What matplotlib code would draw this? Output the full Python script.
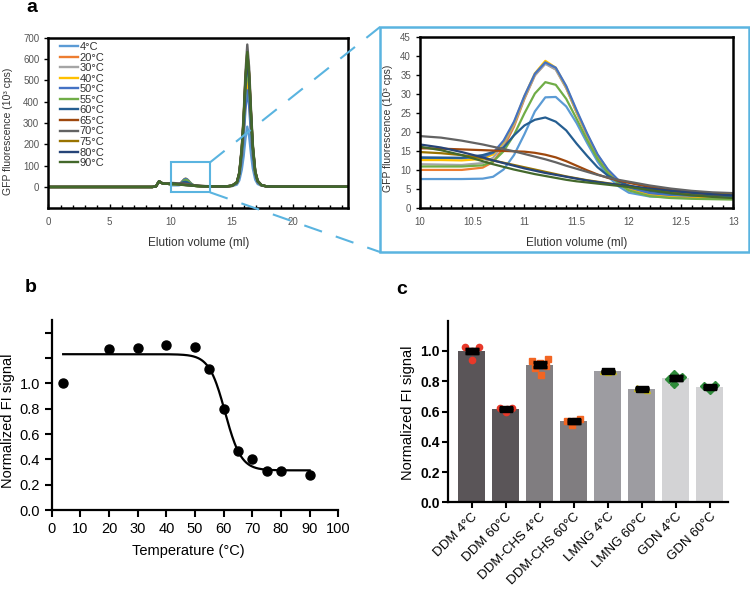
import numpy as np
import matplotlib
matplotlib.use('Agg')
import matplotlib.pyplot as plt
from matplotlib.patches import Rectangle
from matplotlib.lines import Line2D

plt.rcParams['font.family'] = ['Liberation Sans', 'DejaVu Sans']

# ---------------- panel a data (10^3 cps) ----------------
temps = ['4°C', '20°C', '30°C', '40°C', '50°C', '55°C', '60°C', '65°C', '70°C', '75°C', '80°C', '90°C']
line_colors = ['#5B9BD5', '#ED7D31', '#A5A5A5', '#FFC000', '#4472C4', '#70AD47',
               '#255E91', '#9E480E', '#636363', '#997300', '#264478', '#43682B']

x_pre = [0, 8.5, 8.8, 8.95, 9.05, 9.2, 9.4, 9.6, 9.8]
y_pre = [0, 0, 3, 18, 27, 20, 16, 15, 15]

x_zoom = [10.0, 10.2, 10.4, 10.6, 10.7, 10.8, 10.9, 11.0, 11.1, 11.2, 11.3, 11.4,
          11.5, 11.6, 11.7, 11.8, 11.9, 12.0, 12.2, 12.4, 12.6, 12.8, 13.0]
zoom_4c = [7.7, 7.7, 7.7, 7.8, 8.3, 10.2, 14.0, 19.5, 25.5, 29.2, 29.3, 26.8, 22.4, 17.2, 12.3, 8.4, 5.8, 4.1, 3.1, 2.9, 2.8, 2.8, 2.7]
zoom_20c = [10.1, 10.1, 10.1, 10.7, 12.2, 16.0, 21.5, 28.8, 35.0, 38.2, 36.6, 31.7, 25.2, 19.2, 13.8, 9.8, 7.0, 5.2, 3.7, 3.2, 3.0, 2.9, 2.8]
zoom_30c = [11.6, 11.5, 11.4, 11.9, 13.3, 16.9, 22.0, 29.0, 35.0, 38.0, 36.5, 31.6, 25.2, 19.3, 14.0, 10.0, 7.3, 5.5, 4.2, 3.8, 3.6, 3.5, 3.4]
zoom_40c = [12.7, 12.7, 12.6, 13.0, 14.2, 17.5, 22.5, 29.5, 35.5, 38.8, 37.0, 32.0, 25.5, 19.5, 14.0, 10.0, 7.2, 5.3, 3.8, 3.3, 3.1, 3.0, 2.9]
zoom_50c = [13.4, 13.3, 13.2, 13.5, 14.6, 17.8, 22.8, 29.6, 35.4, 38.4, 37.0, 32.2, 25.8, 19.7, 14.2, 10.2, 7.4, 5.5, 4.0, 3.5, 3.3, 3.2, 3.1]
zoom_55c = [11.0, 11.0, 11.0, 11.3, 12.3, 15.0, 19.3, 25.0, 30.2, 33.2, 32.5, 28.8, 23.5, 18.0, 13.0, 9.2, 6.5, 4.7, 3.2, 2.7, 2.5, 2.4, 2.3]
zoom_60c = [13.3, 13.3, 13.3, 14.0, 14.8, 16.0, 19.2, 21.8, 23.3, 23.9, 22.8, 20.5, 17.0, 13.8, 10.8, 8.6, 7.1, 6.0, 4.6, 3.9, 3.6, 3.4, 3.3]
zoom_65c = [15.8, 15.7, 15.5, 15.3, 15.2, 15.1, 15.0, 14.9, 14.6, 14.1, 13.4, 12.4, 11.2, 10.0, 8.9, 8.0, 7.3, 6.7, 5.6, 4.8, 4.2, 3.8, 3.5]
zoom_70c = [19.0, 18.6, 17.8, 16.8, 16.2, 15.6, 15.0, 14.3, 13.6, 12.9, 12.1, 11.2, 10.4, 9.6, 8.8, 8.1, 7.5, 7.0, 6.0, 5.2, 4.6, 4.2, 4.0]
zoom_75c = [14.8, 14.5, 14.0, 13.2, 12.6, 12.0, 11.4, 10.8, 10.2, 9.6, 9.0, 8.4, 7.9, 7.4, 7.0, 6.6, 6.2, 5.8, 5.0, 4.4, 4.0, 3.7, 3.5]
zoom_80c = [16.8, 16.0, 14.8, 13.4, 12.6, 11.9, 11.2, 10.5, 9.9, 9.3, 8.8, 8.3, 7.8, 7.3, 6.9, 6.5, 6.2, 5.9, 5.2, 4.6, 4.1, 3.7, 3.4]
zoom_90c = [16.2, 15.3, 14.0, 12.4, 11.6, 10.9, 10.2, 9.6, 9.0, 8.5, 8.0, 7.5, 7.1, 6.8, 6.5, 6.2, 5.9, 5.6, 4.8, 4.0, 3.4, 3.0, 2.7]
zoom_curves = [zoom_4c, zoom_20c, zoom_30c, zoom_40c, zoom_50c, zoom_55c,
               zoom_60c, zoom_65c, zoom_70c, zoom_75c, zoom_80c, zoom_90c]

x_mid = [13.5, 14.5]
y_mid = [3, 2.5]

x_peak = [15.0, 15.4, 15.6, 15.8, 15.95, 16.1, 16.25, 16.4, 16.55, 16.7, 16.9, 17.1, 17.4, 17.8]
peak_4c = [4, 11, 31, 81, 143, 227, 283, 238, 157, 87, 34, 14, 6, 3]
peak_20c = [5, 19, 55, 149, 263, 419, 523, 440, 289, 159, 60, 24, 8, 3]
peak_30c = [6, 20, 59, 160, 283, 451, 563, 473, 311, 171, 65, 25, 9, 3]
peak_40c = [5, 18, 53, 143, 253, 403, 503, 423, 278, 153, 58, 23, 8, 3]
peak_50c = [5, 17, 48, 129, 228, 363, 453, 381, 251, 138, 53, 21, 8, 3]
peak_55c = [6, 20, 59, 160, 283, 451, 563, 473, 311, 171, 65, 25, 9, 3]
peak_60c = [6, 21, 63, 171, 303, 483, 603, 507, 333, 183, 69, 27, 9, 3]
peak_65c = [6, 22, 66, 179, 318, 507, 633, 532, 350, 192, 72, 28, 9, 3]
peak_70c = [6, 23, 70, 189, 336, 535, 668, 562, 369, 203, 76, 30, 10, 3]
peak_75c = [6, 22, 65, 177, 313, 499, 623, 524, 344, 189, 71, 28, 9, 3]
peak_80c = [6, 21, 64, 174, 308, 491, 613, 515, 339, 186, 70, 27, 9, 3]
peak_90c = [6, 22, 66, 179, 318, 507, 633, 532, 350, 192, 72, 28, 9, 3]
peak_curves = [peak_4c, peak_20c, peak_30c, peak_40c, peak_50c, peak_55c,
               peak_60c, peak_65c, peak_70c, peak_75c, peak_80c, peak_90c]

x_post = [18.5, 24.5]
y_post = [1.5, 1.0]

# ---------------- panel b data ----------------
temp_b = [4, 20, 30, 40, 50, 55, 60, 65, 70, 75, 80, 90]
signal_b = [1.0, 1.268, 1.28, 1.30, 1.287, 1.116, 0.797, 0.466, 0.405, 0.308, 0.308, 0.274]
fit_top, fit_bottom, fit_tm, fit_slope = 1.23, 0.313, 60.5, 2.8

# ---------------- panel c data ----------------
conditions = ['DDM 4°C', 'DDM 60°C', 'DDM-CHS 4°C', 'DDM-CHS 60°C',
              'LMNG 4°C', 'LMNG 60°C', 'GDN 4°C', 'GDN 60°C']
bar_means = [1.0, 0.615, 0.91, 0.535, 0.865, 0.75, 0.82, 0.76]
bar_sem = [0.015, 0.006, 0.015, 0.01, 0.003, 0.003, 0.012, 0.006]
pts_ddm4 = [1.025, 1.025, 0.94, 1.0]
pts_ddm60 = [0.62, 0.62, 0.60, 0.615]
pts_chs4 = [0.935, 0.945, 0.84, 0.89, 0.90, 0.92]
pts_chs60 = [0.535, 0.548, 0.51, 0.54]
pts_lmng4 = [0.87, 0.865, 0.86]
pts_lmng60 = [0.755, 0.745, 0.75]
pts_gdn4 = [0.815, 0.83, 0.785, 0.848]
pts_gdn60 = [0.77, 0.775, 0.74]
pts_all = [pts_ddm4, pts_ddm60, pts_chs4, pts_chs60, pts_lmng4, pts_lmng60, pts_gdn4, pts_gdn60]
pt_offsets = [[-0.2, 0.2, 0.0, 0.0], [-0.18, 0.18, 0.0, 0.05],
              [-0.24, 0.24, 0.05, -0.15, 0.18, 0.0], [-0.2, 0.2, -0.05, 0.05],
              [-0.15, 0.15, 0.0], [-0.15, 0.15, 0.0],
              [-0.2, 0.2, -0.05, -0.05], [-0.17, 0.17, 0.0]]
bar_colors = ['#5a5558', '#5a5558', '#807d80', '#807d80', '#9d9ca1', '#9d9ca1', '#d3d3d5', '#d3d3d5']
pt_colors = ['#e8392a', '#e8392a', '#f26522', '#f26522', '#c8bd1e', '#c8bd1e', '#2e8b3a', '#2e8b3a']
pt_markers = ['o', 'o', 's', 's', '^', '^', 'D', 'D']

W, H = 750, 591
blue = '#5ab4e0'
gray_txt = '#555555'
fig = plt.figure(figsize=(7.5, 5.91), dpi=100)

def fx(px):
    return px / W

def fy(py):
    return 1 - py / H

# ---------- panel a: full chromatogram ----------
ax_a = fig.add_axes([fx(48.3), fy(208.3), fx(300), 170.6 / H])
for i, t in enumerate(temps):
    xs = x_pre + x_zoom + x_mid + x_peak + x_post
    ys = y_pre + zoom_curves[i] + y_mid + peak_curves[i] + y_post
    ax_a.plot(xs, ys, color=line_colors[i], lw=1.7, label=t)
ax_a.set_xlim(0, 24.5)
ax_a.set_ylim(-100, 700)
ax_a.set_xticks([0, 5, 10, 15, 20])
ax_a.set_xticks(np.arange(0, 25, 1), minor=True)
ax_a.set_yticks(np.arange(0, 701, 100))
ax_a.tick_params(axis='x', direction='in', length=3, width=1, labelsize=7, labelcolor=gray_txt, pad=6)
ax_a.tick_params(axis='x', which='minor', direction='in', length=2.5, width=1)
ax_a.tick_params(axis='y', direction='out', length=3, width=1, labelsize=7, labelcolor=gray_txt)
for s in ax_a.spines.values():
    s.set_linewidth(1.8)
ax_a.set_xlabel('Elution volume (ml)', fontsize=8.5, color='#333333')
ax_a.xaxis.set_label_coords(0.5, -0.17)
ax_a.set_ylabel('GFP fluorescence (10³ cps)', fontsize=7.5, color='#333333')
ax_a.yaxis.set_label_coords(-0.118, 0.45)
leg = ax_a.legend(loc='upper left', bbox_to_anchor=(0.04, 0.975), frameon=False,
                  fontsize=8, handlelength=1.6, handletextpad=0.15, labelspacing=0.05,
                  borderpad=0, borderaxespad=0)
for txt in leg.get_texts():
    txt.set_color('#333333')
ax_a.add_patch(Rectangle((10, -25), 3.2, 140, fill=False, ec=blue, lw=1.5, zorder=5))

# ---------- panel a: zoomed region ----------
ax_z = fig.add_axes([fx(420), fy(208.3), fx(313.3), 171 / H])
for i, t in enumerate(temps):
    ax_z.plot(x_zoom, zoom_curves[i], color=line_colors[i], lw=1.6)
ax_z.set_xlim(10, 13)
ax_z.set_ylim(0, 45)
ax_z.set_xticks(np.arange(10, 13.01, 0.5))
ax_z.set_xticklabels(['10', '10.5', '11', '11.5', '12', '12.5', '13'])
ax_z.set_xticks(np.arange(10, 13.01, 0.1), minor=True)
ax_z.set_yticks(np.arange(0, 46, 5))
ax_z.tick_params(axis='x', direction='in', length=3, width=1, labelsize=7, labelcolor=gray_txt, pad=6)
ax_z.tick_params(axis='x', which='minor', direction='in', length=2.5, width=1)
ax_z.tick_params(axis='y', direction='out', length=3, width=1, labelsize=7, labelcolor=gray_txt)
for s in ax_z.spines.values():
    s.set_linewidth(1.8)
ax_z.set_xlabel('Elution volume (ml)', fontsize=8.5, color='#333333')
ax_z.xaxis.set_label_coords(0.5, -0.17)
ax_z.set_ylabel('GFP fluorescence (10³ cps)', fontsize=7.5, color='#333333')
ax_z.yaxis.set_label_coords(-0.087, 0.47)

# frame around zoom + dashed connectors
box_l, box_b, box_w, box_h = fx(380), fy(252), fx(369), 225 / H
fig.add_artist(Rectangle((box_l, box_b), box_w, box_h, transform=fig.transFigure,
                         fill=False, ec=blue, lw=1.8))
fig.canvas.draw()
inv = fig.transFigure.inverted()
p_top = inv.transform(ax_a.transData.transform((13.2, 115)))
p_bot = inv.transform(ax_a.transData.transform((13.2, -25)))
for p0, p1 in [(p_top, (box_l, box_b + box_h)), (p_bot, (box_l, box_b))]:
    fig.add_artist(Line2D([p0[0], p1[0]], [p0[1], p1[1]], transform=fig.transFigure,
                          color=blue, lw=1.5, dashes=(9, 7)))

# ---------- panel b ----------
ax_b = fig.add_axes([fx(51.7), fy(510), fx(286.6), 190 / H])
t_fit = np.linspace(4, 90, 300)
fit_curve = fit_bottom + (fit_top - fit_bottom) / (1 + np.exp((t_fit - fit_tm) / fit_slope))
ax_b.plot(t_fit, fit_curve, color='black', lw=1.6)
ax_b.plot(temp_b, signal_b, 'o', color='black', ms=6.5, clip_on=False)
ax_b.set_xlim(0, 100)
ax_b.set_ylim(0, 1.5)
ax_b.set_xticks(np.arange(0, 101, 10))
ax_b.set_yticks(np.arange(0, 1.41, 0.2))
ax_b.set_yticklabels(['0.0', '0.2', '0.4', '0.6', '0.8', '1.0', '', ''])
ax_b.tick_params(direction='out', length=5, width=1.5, labelsize=10.5)
for s in ['top', 'right']:
    ax_b.spines[s].set_visible(False)
for s in ['left', 'bottom']:
    ax_b.spines[s].set_linewidth(1.6)
ax_b.set_xlabel('Temperature (°C)', fontsize=10.5)
ax_b.xaxis.set_label_coords(0.477, -0.18)
ax_b.set_ylabel('Normalized FI signal', fontsize=10.5)
ax_b.yaxis.set_label_coords(-0.128, 0.47)

# ---------- panel c ----------
ax_c = fig.add_axes([fx(448.3), fy(502.3), fx(280), 181.6 / H])
xpos = np.arange(len(conditions))
ax_c.bar(xpos, bar_means, width=0.78, color=bar_colors, zorder=1)
for i in range(len(conditions)):
    ax_c.plot(xpos[i] + np.array(pt_offsets[i]), pts_all[i], pt_markers[i],
              color=pt_colors[i], ms=4.5, zorder=3, clip_on=False)
ax_c.errorbar(xpos, bar_means, yerr=bar_sem, fmt='none', ecolor='black',
              elinewidth=2, capsize=5, capthick=2.5, zorder=4)
rect_marker = [(-1.8, -1), (1.8, -1), (1.8, 1), (-1.8, 1), (-1.8, -1)]
ax_c.plot(xpos, bar_means, linestyle='none', marker=rect_marker, color='black', ms=9, zorder=5)
ax_c.set_xlim(-0.69, 7.55)
ax_c.set_ylim(0, 1.2)
ax_c.set_yticks(np.arange(0, 1.01, 0.2))
ax_c.set_yticklabels(['0.0', '0.2', '0.4', '0.6', '0.8', '1.0'], fontweight='bold', fontsize=10)
ax_c.set_xticks(xpos)
ax_c.set_xticklabels(conditions, rotation=45, ha='right', rotation_mode='anchor', fontsize=9.5)
ax_c.tick_params(direction='out', length=4, width=1.5, pad=2)
for s in ['top', 'right']:
    ax_c.spines[s].set_visible(False)
for s in ['left', 'bottom']:
    ax_c.spines[s].set_linewidth(1.6)
ax_c.set_ylabel('Normalized FI signal', fontsize=10.5)
ax_c.yaxis.set_label_coords(-0.118, 0.494)

# panel letters
fig.text(fx(32), fy(7), 'a', fontsize=14, fontweight='bold', ha='center', va='center')
fig.text(fx(31), fy(288), 'b', fontsize=14, fontweight='bold', ha='center', va='center')
fig.text(fx(402), fy(289), 'c', fontsize=14, fontweight='bold', ha='center', va='center')

fig.savefig('out.png', dpi=100)
